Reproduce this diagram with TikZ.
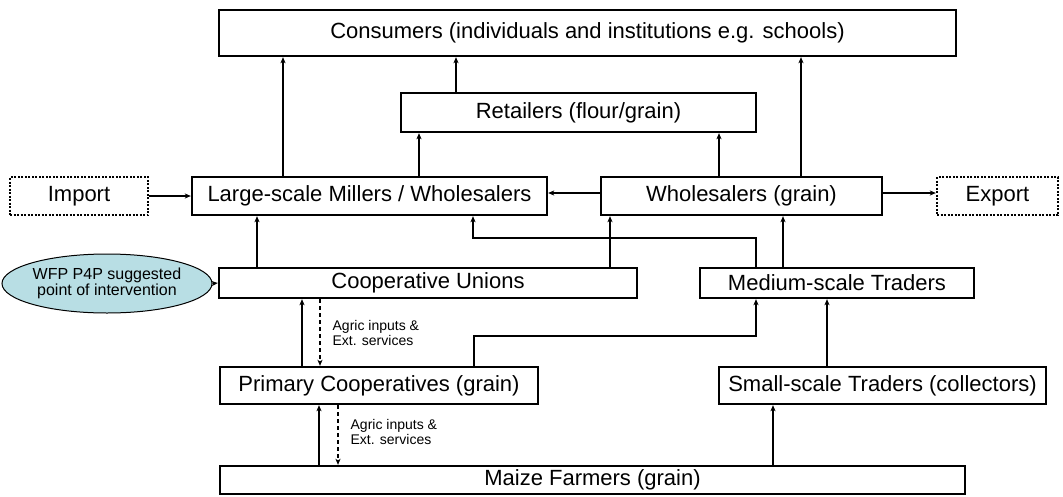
\documentclass[tikz,border=0pt]{standalone}
\usepackage{fontspec}
\setmainfont{Liberation Sans}
\usetikzlibrary{arrows.meta,shapes.geometric}
\definecolor{bleupale}{RGB}{184,222,228}
\begin{document}
\begin{tikzpicture}[x=1pt,y=-1pt]
	% définition des styles
	\tikzstyle{acteur}=[rectangle,draw,line width=2.3pt,inner sep=0pt,text=black,font=\fontsize{22}{24}\selectfont]
	\tikzstyle{externe}=[acteur,dash pattern=on 2pt off 1.5pt]
	\tikzstyle{wfp}=[ellipse,draw,fill=bleupale,line width=1pt,inner sep=0pt,align=center,font=\fontsize{16}{16}\selectfont]
	\tikzstyle{flux}=[-{Stealth[length=6pt,width=5pt,inset=1.5pt]},line width=1.3pt]
	\tikzstyle{intrant}=[flux,dash pattern=on 4pt off 3pt]
	\tikzstyle{note}=[align=left,inner sep=0pt,font=\fontsize{14}{15}\selectfont]
	\useasboundingbox (0,0) rectangle (1063,496);
	% les nœuds
	\node[acteur,minimum width=737,minimum height=46] (cons) at (587.5,33) {Consumers (individuals and institutions e.g. schools)};
	\node[acteur,minimum width=355,minimum height=39] (ret) at (578.5,112.5) {Retailers (flour/grain)};
	\node[externe,minimum width=138,minimum height=38] (imp) at (79,196) {Import};
	\node[acteur,minimum width=355,minimum height=38] (mill) at (369.5,196) {Large-scale Millers / Wholesalers};
	\node[acteur,minimum width=281,minimum height=38] (whole) at (741.5,196) {Wholesalers (grain)};
	\node[externe,minimum width=121,minimum height=38] (exp) at (997.5,196) {Export};
	\node[wfp,minimum width=172,minimum height=59] (p4p) at (107,283.5) {WFP P4P suggested\\point of intervention};
	\node[acteur,minimum width=418,minimum height=30] (union) at (428,283) {Cooperative Unions};
	\node[acteur,minimum width=274,minimum height=30] (med) at (837,283) {Medium-scale Traders};
	\node[acteur,minimum width=318,minimum height=37] (prim) at (379,385.5) {Primary Cooperatives (grain)};
	\node[acteur,minimum width=327,minimum height=37] (small) at (882.5,385.5) {Small-scale Traders (collectors)};
	\node[acteur,minimum width=745,minimum height=28] (maize) at (592.5,480) {Maize Farmers (grain)};
	% les flèches
	\draw[flux] (mill.north -| 283,0) -- (cons.south -| 283,0);
	\draw[flux] (mill.north -| 419,0) -- (ret.south -| 419,0);
	\draw[flux] (ret.north -| 456,0) -- (cons.south -| 456,0);
	\draw[flux] (whole.north -| 719,0) -- (ret.south -| 719,0);
	\draw[flux] (whole.north -| 801,0) -- (cons.south -| 801,0);
	\draw[flux] (imp) -- (mill);
	\draw[flux] (whole.west |- 0,193) -- (mill.east |- 0,193);
	\draw[flux] (whole.east |- 0,193) -- (exp.west |- 0,193);
	\draw[flux] (p4p.east) -- (union.west);
	\draw[flux] (union.north -| 257,0) -- (mill.south -| 257,0);
	\draw[flux] (union.north -| 610,0) -- (whole.south -| 610,0);
	\draw[flux] (med.north -| 783,0) -- (whole.south -| 783,0);
	\draw[flux] (med.north -| 756,0) |- (473,238) -- (mill.south -| 473,0);
	\draw[flux] (prim.north -| 474,0) |- (756,336) -- (med.south -| 756,0);
	\draw[flux] (small.north -| 827,0) -- (med.south -| 827,0);
	\draw[flux] (maize.north -| 773,0) -- (small.south -| 773,0);
	\draw[flux] (prim.north -| 302,0) -- (union.south -| 302,0);
	\draw[intrant] (union.south -| 320,0) -- (prim.north -| 320,0) node[midway,right=12pt,note] {Agric inputs \&\\Ext. services};
	\draw[flux] (maize.north -| 319,0) -- (prim.south -| 319,0);
	\draw[intrant] (prim.south -| 338,0) -- (maize.north -| 338,0) node[midway,right=12pt,yshift=3.5pt,note] {Agric inputs \&\\Ext. services};
\end{tikzpicture}
\end{document}
